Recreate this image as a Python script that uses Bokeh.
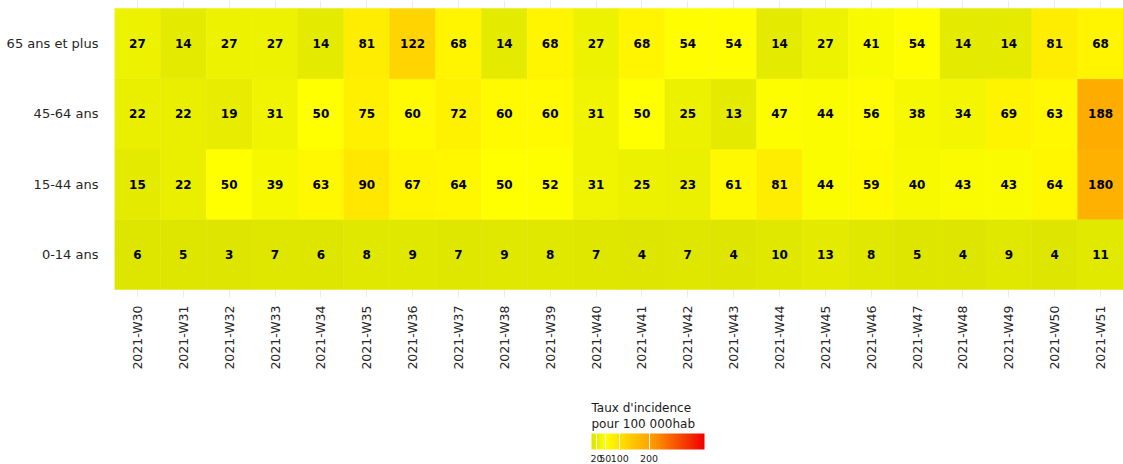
import numpy as np
from bokeh.plotting import figure
from bokeh.models import (ColumnDataSource, FactorRange, LinearColorMapper,
                          ColorBar, FixedTicker, AllLabels)
from bokeh.core.properties import value
from bokeh.embed import file_html
from bokeh.resources import INLINE

weeks = ["2021-W%d" % w for w in range(30, 52)]
groups = ["0-14 ans", "15-44 ans", "45-64 ans", "65 ans et plus"]

v_65plus = [27, 14, 27, 27, 14, 81, 122, 68, 14, 68, 27, 68, 54, 54, 14, 27, 41, 54, 14, 14, 81, 68]
v_45_64 = [22, 22, 19, 31, 50, 75, 60, 72, 60, 60, 31, 50, 25, 13, 47, 44, 56, 38, 34, 69, 63, 188]
v_15_44 = [15, 22, 50, 39, 63, 90, 67, 64, 50, 52, 31, 25, 23, 61, 81, 44, 59, 40, 43, 43, 64, 180]
v_0_14 = [6, 5, 3, 7, 6, 8, 9, 7, 9, 8, 7, 4, 7, 4, 10, 13, 8, 5, 4, 9, 4, 11]

legend_title = "Taux d'incidence\npour 100 000hab"
legend_ticks = [20, 50, 100, 200]
scale_low, scale_high = 3, 390

# colour gradient stops (value, rgb)
stops = [(3, (221, 229, 0)), (50, (255, 255, 0)), (200, (255, 165, 0)), (390, (240, 0, 0))]

def build_palette(n=256):
    xs = np.linspace(scale_low, scale_high, n)
    sv = [s[0] for s in stops]
    pal = []
    for x in xs:
        rgb = [int(round(np.interp(x, sv, [s[1][k] for s in stops]))) for k in range(3)]
        pal.append("#%02x%02x%02x" % tuple(rgb))
    return pal

palette = build_palette()
mapper = LinearColorMapper(palette=palette, low=scale_low, high=scale_high)

series = {"0-14 ans": v_0_14, "15-44 ans": v_15_44, "45-64 ans": v_45_64, "65 ans et plus": v_65plus}
xs, ys, vals = [], [], []
for g in groups:
    for w, v in zip(weeks, series[g]):
        xs.append(w); ys.append(g); vals.append(v)
src = ColumnDataSource(dict(week=xs, group=ys, val=vals, label=[str(v) for v in vals]))

p = figure(width=1123, height=464,
           x_range=FactorRange(factors=weeks, range_padding=0),
           y_range=FactorRange(factors=groups, range_padding=0.0567),
           output_backend="svg", toolbar_location=None,
           min_border_left=114, min_border_right=0, min_border_top=0, min_border_bottom=166)
p.outline_line_color = None
p.background_fill_color = "white"

p.rect(x="week", y="group", width=1, height=1, source=src,
       fill_color={"field": "val", "transform": mapper},
       line_color={"field": "val", "transform": mapper}, line_width=0.5)
p.text(x="week", y="group", text="label", source=src,
       text_align="center", text_baseline="middle",
       text_font=value("DejaVu Sans"), text_font_style="bold",
       text_font_size="12px", text_color="black")

p.xgrid.grid_line_color = "#ebebeb"
p.ygrid.grid_line_color = "#ebebeb"

for ax in (p.xaxis, p.yaxis):
    ax.axis_line_color = None
    ax.major_tick_line_color = None
    ax.minor_tick_line_color = None
    ax.major_label_text_font = "DejaVu Sans"
    ax.major_label_text_color = "#262626"
p.xaxis.major_label_orientation = np.pi / 2
p.xaxis.major_label_text_font_size = "12.5px"
p.xaxis.major_label_standoff = 2
p.xaxis.axis_label = " "
p.xaxis.axis_label_text_font_size = "13px"
p.xaxis.axis_label_standoff = 6
p.yaxis.major_label_text_font_size = "13px"
p.yaxis.major_label_standoff = 10

cb = ColorBar(color_mapper=mapper, orientation="horizontal", width=113, height=16,
              ticker=FixedTicker(ticks=legend_ticks),
              major_label_policy=AllLabels(),
              title=legend_title, title_text_font="DejaVu Sans",
              title_text_font_style="normal", title_text_font_size="12px",
              title_text_color="#1a1a1a", title_standoff=4,
              major_label_text_font="DejaVu Sans",
              major_label_text_font_size="9.5px", major_label_text_color="#1a1a1a",
              major_tick_line_color="white", major_tick_in=16, major_tick_out=0,
              minor_tick_line_color=None, bar_line_color=None,
              background_fill_alpha=0, border_line_color=None,
              padding=0, margin=0, location=(477, 0))
p.add_layout(cb, "below")

open("out.html", "w").write(file_html(p, INLINE))
